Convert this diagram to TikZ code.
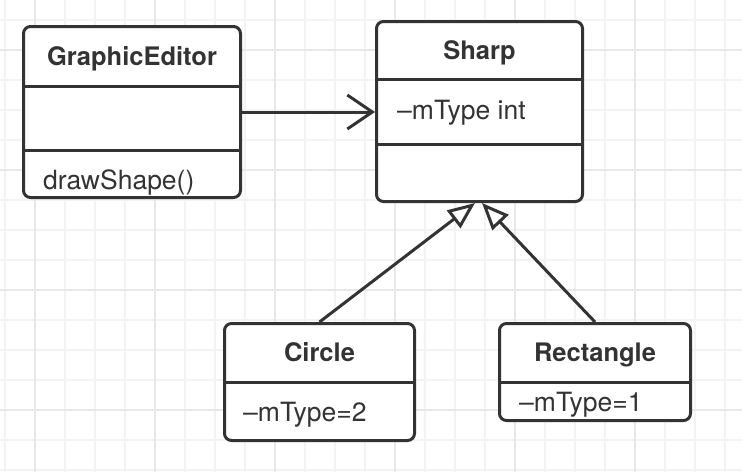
\documentclass[tikz,border=0pt]{standalone}
\usepackage{fontspec}
\setmainfont{TeX Gyre Heros}
\usetikzlibrary{arrows.meta}
\definecolor{ink}{HTML}{333333}
\definecolor{gridminor}{HTML}{F3F3F3}
\definecolor{gridmajor}{HTML}{E8E8E8}

\begin{document}
\begin{tikzpicture}[x=1pt,y=-1pt]
   \tikzstyle{class}=[draw=ink, line width=3pt, rounded corners=7pt, fill=white, inner sep=0pt]
   \tikzstyle{sep}=[draw=ink, line width=3pt]
   \tikzstyle{title}=[anchor=base, text=ink, font=\fontsize{25.5}{30}\selectfont\bfseries]
   \tikzstyle{attr}=[anchor=base west, text=ink, inner sep=0pt, font=\fontsize{26.5}{30}\selectfont]
   \tikzstyle{uses}=[draw=ink, line width=3pt, -{Straight Barb[length=25pt, width=34pt]}]
   \tikzstyle{extends}=[draw=ink, line width=3pt, -{Triangle[open, length=27pt, width=22pt]}]

\useasboundingbox (0,0) rectangle (742,472);
\fill[white] (0,0) rectangle (742,472);
\foreach \x in {5,35,...,725} \draw[gridminor, line width=1.5pt] (\x,0) -- (\x,472);
\foreach \y in {20,50,...,470} \draw[gridminor, line width=1.5pt] (0,\y) -- (742,\y);
\foreach \x in {35,155,...,635} \draw[gridmajor, line width=1.5pt] (\x,0) -- (\x,472);
\foreach \y in {50,170,...,410} \draw[gridmajor, line width=1.5pt] (0,\y) -- (742,\y);

\node[class, minimum width=217pt, minimum height=171pt] (editor) at (132,112) {};
\node[class, minimum width=206pt, minimum height=180pt] (sharp) at (479.5,111.5) {};
\node[class, minimum width=190pt, minimum height=117pt] (circle) at (319.5,382) {};
\node[class, minimum width=191pt, minimum height=97pt] (rect) at (595,372) {};

\draw[sep] (editor.west |- 0,86) -- (editor.east |- 0,86);
\draw[sep] (editor.west |- 0,150) -- (editor.east |- 0,150);
\draw[sep] (sharp.west |- 0,79) -- (sharp.east |- 0,79);
\draw[sep] (sharp.west |- 0,144) -- (sharp.east |- 0,144);
\draw[sep] (circle.west |- 0,382) -- (circle.east |- 0,382);
\draw[sep] (rect.west |- 0,382) -- (rect.east |- 0,382);

\node[title] (editorname) at (132,65) {GraphicEditor};
\node[attr] (editorop) at (43,189) {drawShape()};
\node[title] (sharpname) at (479.5,59) {Sharp};
\node[attr] (sharpattr) at (397,119) {\textendash mType int};
\node[title] (circlename) at (319.5,361) {Circle};
\node[attr] (circleattr) at (243,421) {\textendash mType=2};
\node[title] (rectname) at (595,361) {Rectangle};
\node[attr] (rectattr) at (519,411) {\textendash mType=1};

\draw[uses] (editor.east) -- (editor.east -| sharp.west);
\draw[extends] (circle.north) -- ([xshift=-4.5pt]sharp.south);
\draw[extends] (rect.north) -- ([xshift=2.5pt]sharp.south);

\end{tikzpicture}
\end{document}
